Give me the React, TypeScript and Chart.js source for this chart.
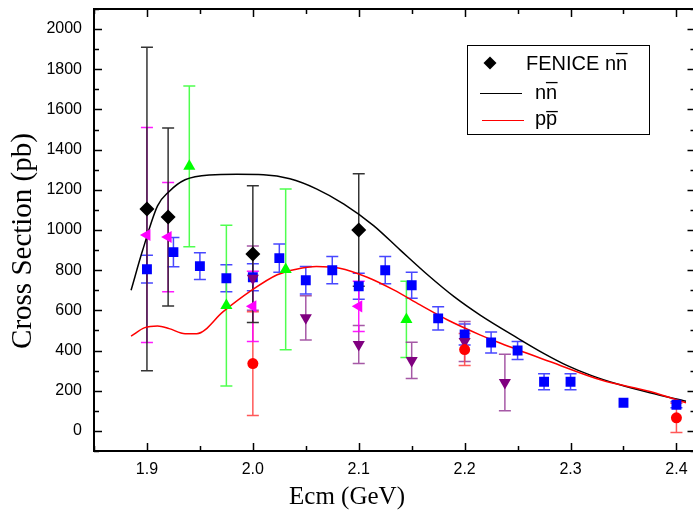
import React, { useEffect, useRef } from 'react';
import { Chart, registerables } from 'chart.js';

Chart.register(...registerables);

// ---- axis ticks ----
const xTickValues = [1.9, 2.0, 2.1, 2.2, 2.3, 2.4];
const xMinorValues = [1.85, 1.95, 2.05, 2.15, 2.25, 2.35];
const yTickValues = [0, 200, 400, 600, 800, 1000, 1200, 1400, 1600, 1800, 2000];
const yMinorValues = [-100, 100, 300, 500, 700, 900, 1100, 1300, 1500, 1700, 1900, 2100];

// ---- FENICE n n-bar (black diamonds) ----
const fenX = [1.9, 1.92, 2.0, 2.1];
const fenY = [1105, 1065, 880, 1000];
const fenErr = [805, 443, 340, 280];

// ---- theory curves ----
const nnCurveX = [1.885, 1.896, 1.91, 1.921, 1.936, 1.959, 1.985, 2.01, 2.035, 2.06, 2.086, 2.114, 2.139, 2.165, 2.19, 2.215, 2.25, 2.275, 2.297, 2.32, 2.345, 2.375, 2.409];
const nnCurveY = [700, 900, 1120, 1192, 1250, 1274, 1277, 1275, 1255, 1205, 1129, 1022, 901, 777, 668, 575, 462, 385, 325, 275, 232, 190, 148];
const ppCurveX = [1.885, 1.898, 1.91, 1.921, 1.936, 1.947, 1.972, 1.997, 2.023, 2.041, 2.06, 2.082, 2.108, 2.133, 2.158, 2.184, 2.215, 2.234, 2.281, 2.329, 2.376, 2.409];
const ppCurveY = [472, 514, 522, 509, 484, 484, 594, 693, 777, 805, 818, 810, 765, 702, 627, 552, 477, 436, 344, 253, 195, 140];

// ---- other data sets ----
const blueX = [1.9, 1.925, 1.95, 1.975, 2.0, 2.025, 2.05, 2.075, 2.1, 2.125, 2.15, 2.175, 2.2, 2.225, 2.25, 2.275, 2.3, 2.35, 2.4];
const blueY = [805, 890, 820, 760, 765, 860, 750, 800, 720, 800, 725, 560, 480, 440, 400, 245, 245, 140, 130];
const blueErr = [69, 73, 67, 67, 67, 70, 68, 68, 65, 68, 65, 58, 52, 52, 45, 40, 40, 0, 15];

const greenX = [1.94, 1.975, 2.031, 2.145];
const greenY = [1317, 624, 804, 555];
const greenErr = [400, 400, 400, 190];

const magentaX = [1.9, 1.92, 2.0, 2.1];
const magentaY = [975, 965, 620, 620];
const magentaErr = [535, 272, 175, 125];

const purpleX = [2.0, 2.05, 2.1, 2.15, 2.2, 2.238];
const purpleY = [760, 563, 430, 351, 445, 241];
const purpleErr = [160, 110, 95, 90, 100, 141];

const redX = [2.0, 2.2, 2.4];
const redY = [335, 405, 65];
const redErr = [258, 80, 73];

const SANS = '"Liberation Sans", Arial, Helvetica, sans-serif';
const SERIF = '"Liberation Serif", "Times New Roman", serif';

const pts = (xs: number[], ys: number[]) => xs.map((x, i) => ({ x, y: ys[i] }));

const errorSeries = [
  { xs: blueX, ys: blueY, errs: blueErr, color: 'rgba(40,40,255,0.85)' },
  { xs: greenX, ys: greenY, errs: greenErr, color: 'rgba(60,255,60,0.9)' },
  { xs: purpleX, ys: purpleY, errs: purpleErr, color: 'rgba(150,60,150,0.85)' },
  { xs: redX, ys: redY, errs: redErr, color: 'rgba(255,70,70,0.9)' },
  { xs: magentaX, ys: magentaY, errs: magentaErr, color: 'rgba(255,0,255,0.9)' },
  { xs: fenX, ys: fenY, errs: fenErr, color: 'rgba(30,30,30,0.9)' },
];

const errorBarPlugin = {
  id: 'errbars',
  beforeDatasetsDraw(chart: any) {
    const { ctx, chartArea, scales } = chart;
    const xs = scales.x;
    const ys = scales.y;
    ctx.save();
    ctx.beginPath();
    ctx.rect(chartArea.left, chartArea.top, chartArea.right - chartArea.left, chartArea.bottom - chartArea.top);
    ctx.clip();
    ctx.lineWidth = 1.5;
    for (const s of errorSeries) {
      ctx.strokeStyle = s.color;
      s.xs.forEach((xv, i) => {
        const e = s.errs[i];
        if (!e) return;
        const px = xs.getPixelForValue(xv);
        const top = ys.getPixelForValue(s.ys[i] + e);
        const bot = ys.getPixelForValue(s.ys[i] - e);
        ctx.beginPath();
        ctx.moveTo(px, top);
        ctx.lineTo(px, bot);
        ctx.moveTo(px - 6, top);
        ctx.lineTo(px + 6, top);
        ctx.moveTo(px - 6, bot);
        ctx.lineTo(px + 6, bot);
        ctx.stroke();
      });
    }
    ctx.restore();
  },
};

const framePlugin = {
  id: 'frame',
  afterDraw(chart: any) {
    const { ctx, chartArea, scales } = chart;
    const { left, right, top, bottom } = chartArea;
    const xs = scales.x;
    const ys = scales.y;
    ctx.save();
    ctx.strokeStyle = '#000';
    ctx.lineWidth = 2;
    ctx.strokeRect(left, top, right - left, bottom - top);
    const drawX = (vals: number[], len: number) => {
      vals.forEach((v) => {
        const px = Math.round(xs.getPixelForValue(v)) + 0.5;
        ctx.beginPath();
        ctx.moveTo(px, bottom);
        ctx.lineTo(px, bottom - len);
        ctx.moveTo(px, top);
        ctx.lineTo(px, top + len);
        ctx.stroke();
      });
    };
    const drawY = (vals: number[], len: number) => {
      vals.forEach((v) => {
        const py = Math.round(ys.getPixelForValue(v)) + 0.5;
        ctx.beginPath();
        ctx.moveTo(left, py);
        ctx.lineTo(left + len, py);
        ctx.moveTo(right, py);
        ctx.lineTo(right - len, py);
        ctx.stroke();
      });
    };
    ctx.lineWidth = 1.5;
    drawX(xTickValues, 8);
    drawX(xMinorValues, 5);
    drawY(yTickValues, 8);
    drawY(yMinorValues, 5);

    // axis titles
    ctx.fillStyle = '#000';
    ctx.font = `25px ${SERIF}`;
    ctx.textAlign = 'center';
    ctx.textBaseline = 'middle';
    ctx.fillText('Ecm (GeV)', 347, 497);
    ctx.save();
    ctx.font = `29px ${SERIF}`;
    ctx.translate(23, 241);
    ctx.rotate(-Math.PI / 2);
    ctx.fillText('Cross Section (pb)', 0, 0);
    ctx.restore();

    // legend
    const bx = 467.5;
    const by = 45.5;
    const bw = 182;
    const bh = 89;
    ctx.fillStyle = '#fff';
    ctx.fillRect(bx, by, bw, bh);
    ctx.lineWidth = 1;
    ctx.strokeStyle = '#000';
    ctx.strokeRect(bx, by, bw, bh);
    // diamond
    ctx.fillStyle = '#000';
    ctx.beginPath();
    ctx.moveTo(490 - 6.5, 63);
    ctx.lineTo(490, 63 - 6.5);
    ctx.lineTo(490 + 6.5, 63);
    ctx.lineTo(490, 63 + 6.5);
    ctx.closePath();
    ctx.fill();
    ctx.lineWidth = 1;
    ctx.beginPath();
    ctx.moveTo(480, 93.5);
    ctx.lineTo(522, 93.5);
    ctx.stroke();
    ctx.strokeStyle = '#ff0000';
    ctx.beginPath();
    ctx.moveTo(482, 120.5);
    ctx.lineTo(524, 120.5);
    ctx.stroke();
    ctx.font = `20px ${SANS}`;
    ctx.textAlign = 'left';
    ctx.textBaseline = 'middle';
    ctx.fillStyle = '#000';
    ctx.fillText('FENICE nn\u0305', 526, 64);
    ctx.fillText('nn\u0305', 535, 93);
    ctx.fillText('pp\u0305', 535, 119);
    ctx.restore();
  },
};

export default function App() {
  const ref = useRef<HTMLCanvasElement | null>(null);

  useEffect(() => {
    document.body.style.margin = '0';
    document.body.style.overflow = 'hidden';
    const canvas = ref.current;
    if (!canvas) return;
    const chart = new Chart(canvas, {
      type: 'scatter',
      data: {
        datasets: [
          {
            label: 'FENICE nn\u0305',
            data: pts(fenX, fenY),
            pointStyle: 'rectRot',
            pointRadius: 7.5,
            backgroundColor: '#000',
            borderColor: '#000',
            borderWidth: 0,
            order: 0,
          },
          {
            label: 'nn\u0305',
            data: pts(nnCurveX, nnCurveY),
            showLine: true,
            pointRadius: 0,
            borderColor: '#000',
            borderWidth: 1.5,
            cubicInterpolationMode: 'monotone',
            order: 10,
          },
          {
            label: 'pp\u0305',
            data: pts(ppCurveX, ppCurveY),
            showLine: true,
            pointRadius: 0,
            borderColor: '#ff0000',
            borderWidth: 1.5,
            cubicInterpolationMode: 'monotone',
            order: 9,
          },
          {
            label: 'blue',
            data: pts(blueX, blueY),
            pointStyle: 'rect',
            pointRadius: 7,
            backgroundColor: '#0000ff',
            borderColor: '#0000ff',
            borderWidth: 0,
            order: 5,
          },
          {
            label: 'green',
            data: pts(greenX, greenY),
            pointStyle: 'triangle',
            pointRadius: 7,
            backgroundColor: '#00ff00',
            borderColor: '#00ff00',
            borderWidth: 0,
            order: 4,
          },
          {
            label: 'magenta',
            data: pts(magentaX, magentaY),
            pointStyle: 'triangle',
            pointRotation: 270,
            pointRadius: 7,
            backgroundColor: '#ff00ff',
            borderColor: '#ff00ff',
            borderWidth: 0,
            order: 3,
          },
          {
            label: 'purple',
            data: pts(purpleX, purpleY),
            pointStyle: 'triangle',
            pointRotation: 180,
            pointRadius: 7,
            backgroundColor: '#800080',
            borderColor: '#800080',
            borderWidth: 0,
            order: 2,
          },
          {
            label: 'red',
            data: pts(redX, redY),
            pointStyle: 'circle',
            pointRadius: 5.5,
            backgroundColor: '#ff0000',
            borderColor: '#ff0000',
            borderWidth: 0,
            order: 1,
          },
        ],
      } as any,
      options: {
        responsive: false,
        animation: false,
        devicePixelRatio: 1,
        layout: { padding: { top: 9, right: 2, left: 0, bottom: 0 } },
        plugins: {
          legend: { display: false },
          tooltip: { enabled: false },
        },
        scales: {
          x: {
            type: 'linear',
            min: 1.85,
            max: 2.418,
            afterBuildTicks: (s: any) => {
              s.ticks = xTickValues.map((v) => ({ value: v }));
            },
            afterFit: (s: any) => {
              s.height = 67;
              s.paddingLeft = 0;
              s.paddingRight = 0;
              s.paddingTop = 0;
              s.paddingBottom = 0;
            },
            ticks: {
              callback: (v: any) => Number(v).toFixed(1),
              font: { size: 16, family: SANS },
              color: '#000',
              padding: 9,
              maxRotation: 0,
              autoSkip: false,
            },
            grid: { display: false, drawTicks: false },
            border: { display: false },
          },
          y: {
            type: 'linear',
            min: -100,
            max: 2100,
            afterBuildTicks: (s: any) => {
              s.ticks = yTickValues.map((v) => ({ value: v }));
            },
            afterFit: (s: any) => {
              s.width = 94;
              s.paddingLeft = 0;
              s.paddingRight = 0;
              s.paddingTop = 0;
              s.paddingBottom = 0;
            },
            ticks: {
              callback: (v: any) => String(v),
              font: { size: 16, family: SANS },
              color: '#000',
              padding: 12,
              autoSkip: false,
            },
            grid: { display: false, drawTicks: false },
            border: { display: false },
          },
        },
      } as any,
      plugins: [errorBarPlugin, framePlugin],
    });
    return () => chart.destroy();
  }, []);

  return (
    <div style={{ width: 693, height: 518, overflow: 'hidden' }}>
      <canvas ref={ref} width={703} height={518} style={{ width: 703, height: 518, display: 'block' }} />
    </div>
  );
}
